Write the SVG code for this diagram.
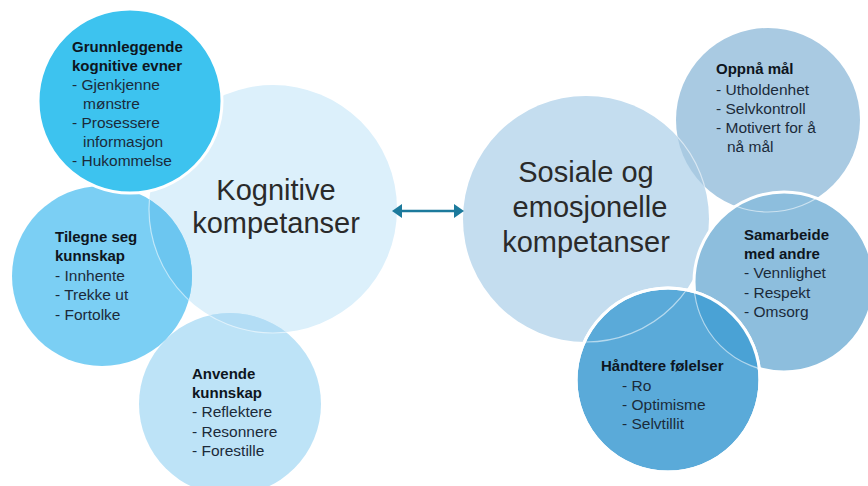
<svg xmlns="http://www.w3.org/2000/svg" width="868" height="486" viewBox="0 0 868 486">
<style>
.t{font-family:"Liberation Sans",Arial,sans-serif;font-size:15.5px;fill:#1b2a3a}
.b{font-family:"Liberation Sans",Arial,sans-serif;font-size:15px;font-weight:bold;fill:#0d1520}
.big{font-family:"Liberation Sans",Arial,sans-serif;font-size:29px;fill:#2a2a2a;text-anchor:middle}
.ring{fill:none;stroke:#ffffff;stroke-width:1.2;stroke-opacity:0.55}
.edge{stroke:#ffffff;stroke-width:3}
</style>
<defs>
<clipPath id="cTil"><circle cx="102" cy="276" r="90"/></clipPath>
<clipPath id="cAnv"><circle cx="230" cy="404" r="91"/></clipPath>
<clipPath id="cOpp"><circle cx="768" cy="120" r="92"/></clipPath>
<clipPath id="cSam"><circle cx="784" cy="282" r="90"/></clipPath>
<clipPath id="cHan"><circle cx="668" cy="380" r="92"/></clipPath>
<marker id="ah" viewBox="0 0 10 14" refX="2" refY="7" markerWidth="10" markerHeight="14" markerUnits="userSpaceOnUse" orient="auto-start-reverse">
<path d="M0,0 L10,7 L0,14 Z" fill="#1c7a9c"/>
</marker>
</defs>
<rect width="868" height="486" fill="#ffffff"/>

<g id="kognitive">
<circle cx="273" cy="209" r="124" fill="#dcf0fb"/>
<text class="big" x="276" y="200">Kognitive</text>
<text class="big" x="276" y="233">kompetanser</text>
</g>

<g id="anvende">
<circle cx="230" cy="404" r="91" fill="#bde3f7"/>
<circle cx="273" cy="209" r="124" fill="#b3ddf5" clip-path="url(#cAnv)"/>
<circle cx="273" cy="209" r="124" class="ring" clip-path="url(#cAnv)"/>
<text class="b" x="192" y="379">Anvende</text>
<text class="b" x="192" y="398">kunnskap</text>
<text class="t" x="192" y="417">- Reflektere</text>
<text class="t" x="192" y="437">- Resonnere</text>
<text class="t" x="192" y="456">- Forestille</text>
</g>

<g id="tilegne">
<circle cx="102" cy="276" r="90" fill="#7bcff4"/>
<circle cx="273" cy="209" r="124" fill="#6cc6f0" clip-path="url(#cTil)"/>
<circle cx="273" cy="209" r="124" class="ring" clip-path="url(#cTil)"/>
<text class="b" x="55" y="242">Tilegne seg</text>
<text class="b" x="55" y="261">kunnskap</text>
<text class="t" x="55" y="281">- Innhente</text>
<text class="t" x="55" y="300">- Trekke ut</text>
<text class="t" x="55" y="320">- Fortolke</text>
</g>

<g id="grunnleggende">
<circle cx="130" cy="101" r="92" fill="#3dc3ef" class="edge"/>
<text class="b" x="72" y="52">Grunnleggende</text>
<text class="b" x="72" y="71">kognitive evner</text>
<text class="t" x="72" y="90">- Gjenkjenne</text>
<text class="t" x="83" y="109">mønstre</text>
<text class="t" x="72" y="128">- Prosessere</text>
<text class="t" x="83" y="147">informasjon</text>
<text class="t" x="72" y="166">- Hukommelse</text>
</g>

<g id="sosiale">
<circle cx="586" cy="219" r="123" fill="#c4ddef"/>
<text class="big" x="586" y="182">Sosiale og</text>
<text class="big" x="590" y="217">emosjonelle</text>
<text class="big" x="586" y="252">kompetanser</text>
</g>

<g id="oppna">
<circle cx="768" cy="120" r="92" fill="#a9cae2"/>
<circle cx="586" cy="219" r="123" class="ring" clip-path="url(#cOpp)"/>
<text class="b" x="716" y="74">Oppnå mål</text>
<text class="t" x="716" y="95">- Utholdenhet</text>
<text class="t" x="716" y="114">- Selvkontroll</text>
<text class="t" x="716" y="133">- Motivert for å</text>
<text class="t" x="727" y="152">nå mål</text>
</g>

<g id="samarbeide">
<circle cx="784" cy="282" r="90" fill="#8dbedd" class="edge"/>
<circle cx="768" cy="120" r="92" class="ring" clip-path="url(#cSam)"/>
<text class="b" x="744" y="240">Samarbeide</text>
<text class="b" x="744" y="259">med andre</text>
<text class="t" x="744" y="278">- Vennlighet</text>
<text class="t" x="744" y="298">- Respekt</text>
<text class="t" x="744" y="317">- Omsorg</text>
</g>

<g id="handtere">
<circle cx="668" cy="380" r="92" fill="#5aaad9" class="edge"/>
<circle cx="784" cy="282" r="90" fill="#4aa2d5" clip-path="url(#cHan)"/>
<circle cx="784" cy="282" r="90" class="ring" clip-path="url(#cHan)"/>
<circle cx="586" cy="219" r="123" class="ring" clip-path="url(#cHan)"/>
<circle cx="668" cy="380" r="92" fill="none" class="edge"/>
<text class="b" x="601" y="371">Håndtere følelser</text>
<text class="t" x="622" y="391">- Ro</text>
<text class="t" x="622" y="410">- Optimisme</text>
<text class="t" x="622" y="429">- Selvtillit</text>
</g>

<g id="connectors">
<line x1="400" y1="211" x2="456" y2="211" stroke="#1c7a9c" stroke-width="2.5" marker-start="url(#ah)" marker-end="url(#ah)"/>
</g>
</svg>
